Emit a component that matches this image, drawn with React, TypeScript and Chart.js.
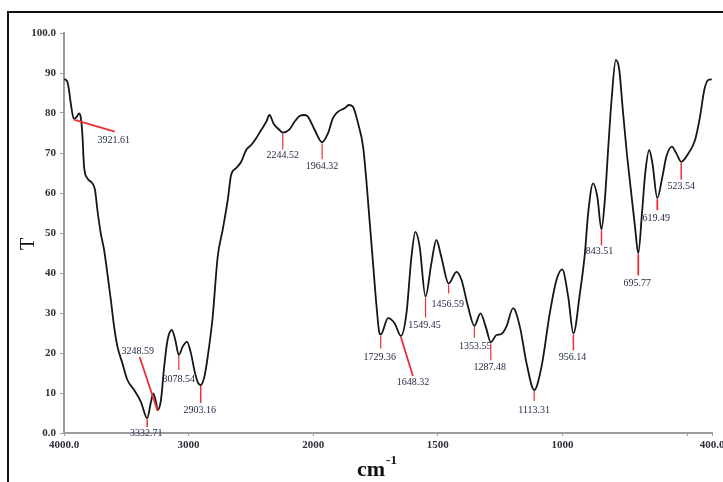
import React, { useEffect, useRef } from "react";
import { Chart, registerables } from "chart.js";

Chart.register(...registerables);

// ---- data (wavenumber cm-1, transmittance %) ----
const wavenumbers = [
  4000, 3973, 3960, 3946, 3921.61, 3901, 3879, 3866, 3853, 3839,
  3813, 3772, 3751, 3732, 3705, 3678, 3652, 3624, 3598, 3571,
  3531, 3491, 3437, 3383, 3332.71, 3302, 3284, 3262, 3248.59, 3222,
  3196, 3169, 3134, 3107, 3078.54, 3048, 3013, 2981, 2954, 2928,
  2903.16, 2874, 2847, 2807, 2767, 2727, 2686, 2659, 2619, 2578,
  2538, 2498, 2458, 2418, 2377, 2351, 2319, 2271, 2244.52, 2190,
  2150, 2109, 2069, 2043, 1994, 1964.32, 1941, 1921, 1901, 1874,
  1857, 1841, 1820, 1800, 1787, 1773, 1760, 1747, 1734, 1729.36,
  1700, 1673, 1648.32, 1626, 1606, 1590, 1573, 1549.45, 1526, 1506,
  1486, 1456.59, 1425, 1405, 1379, 1353.55, 1329, 1308, 1287.48, 1265,
  1245, 1225, 1198, 1171, 1144, 1113.31, 1084, 1051, 1024, 1001,
  977, 956.14, 930, 910, 897, 877, 860, 843.51, 830, 816,
  803, 786, 772, 759, 743, 727, 709, 695.77, 681, 668,
  652, 639, 619.49, 599, 583, 561, 543, 523.54, 495, 468,
  448, 431, 415, 401,
];

const transmittance = [
  88.5, 87.8, 85.75, 82.5, 78.6, 78.9, 79.9, 79, 74.9, 66.6,
  63.7, 62.4, 60.75, 55.75, 49.9, 45.75, 39.9, 33.25, 26.6, 21.6,
  17.4, 13.25, 10.75, 7.8, 3.7, 7.8, 9.9, 7.8, 5.75, 8.25,
  16.6, 23.25, 25.75, 23.25, 19.5, 21.6, 22.8, 19.9, 15.75, 12.8,
  12, 14, 19, 29, 44, 50.75, 58.25, 64.5, 66.2, 67.8,
  70.75, 72, 73.7, 75.75, 77.8, 79.5, 77.4, 75.75, 75.1, 75.9,
  77.8, 79.25, 79.5, 79.1, 75.75, 72.7, 74.9, 78.7, 80.3, 81.2,
  82, 81.6, 77.4, 71.6, 63.25, 52.4, 42.4, 32.4, 24.9, 24.6,
  28.7, 27.4, 24.25, 29.9, 44, 50.3, 46.6, 34.1, 42.4, 48.25,
  44, 37.4, 40.3, 38.25, 31.6, 26.8, 29.9, 26.6, 22.7, 24.5,
  24.75, 26.6, 31.2, 26.6, 17.4, 10.75, 16.6, 29.9, 38.25, 40.9,
  34.1, 24.9, 34.9, 44.9, 54.9, 62.4, 59, 50.9, 58.25, 71.6,
  83.25, 93.25, 90.75, 81.6, 70.75, 61.6, 51.6, 44.9, 54.9, 64.9,
  70.75, 67.4, 58.7, 64.1, 69.1, 71.6, 69.9, 67.8, 69.9, 73.25,
  79.1, 85.75, 88.25, 88.4,
];

const xTickValues = [4000, 3000, 2000, 1500, 1000, 500, 400];
const xTickLabels = ["4000.0", "3000", "2000", "1500", "1000", "", "400.0"];
const yTickValues = [0, 10, 20, 30, 40, 50, 60, 70, 80, 90, 100];
const yTickLabels = ["0.0", "10", "20", "30", "40", "50", "60", "70", "80", "90", "100.0"];

const peakWavenumbers = [
  3921.61, 3332.71, 3248.59, 3078.54, 2903.16, 2244.52, 1964.32, 1729.36,
  1648.32, 1549.45, 1456.59, 1353.55, 1287.48, 1113.31, 956.14, 843.51,
  695.77, 619.49, 523.54,
];
const peakLabels = peakWavenumbers.map((w) => w.toFixed(2));

// annotation layout: leader line end offset and label centre offset (px), relative to the peak point
const peakLayout = [
  { lx: 41, ly: 13, tx: 40, ty: 22, w: 1.8 },
  { lx: 0, ly: 9, tx: -1, ty: 15, w: 1.5 },
  { lx: -18, ly: -53, tx: -20, ty: -59, w: 1.8 },
  { lx: 0, ly: 15, tx: 0, ty: 24, w: 1.2 },
  { lx: 0, ly: 18, tx: -1, ty: 25, w: 1.5 },
  { lx: 0, ly: 17, tx: 0, ty: 23, w: 1.2 },
  { lx: 0, ly: 17, tx: 0, ty: 24.5, w: 1.2 },
  { lx: 0, ly: 14, tx: -1, ty: 23, w: 1.2 },
  { lx: 12, ly: 40, tx: 12, ty: 46, w: 1.8 },
  { lx: 0, ly: 21, tx: -1, ty: 29, w: 1.2 },
  { lx: 0, ly: 10, tx: -1, ty: 21, w: 1.2 },
  { lx: 0, ly: 12, tx: 1, ty: 21, w: 1.2 },
  { lx: 0, ly: 18, tx: -1, ty: 25, w: 1.2 },
  { lx: 0, ly: 11, tx: 0, ty: 20, w: 1.2 },
  { lx: 0, ly: 17, tx: -1, ty: 24, w: 1.5 },
  { lx: 0, ly: 16, tx: -2, ty: 22, w: 1.5 },
  { lx: 0, ly: 22, tx: -1, ty: 30, w: 1.8 },
  { lx: 0, ly: 12, tx: -1, ty: 20, w: 1.8 },
  { lx: 0, ly: 18, tx: 0, ty: 25, w: 1.5 },
];

// axis compression above 2000 cm-1 (half scale), as in the instrument's display
const BREAK = 2000;
const toAxis = (w: number) => (w <= BREAK ? w : BREAK + (w - BREAK) / 2);

const RED = "#ec2f35";
const LABEL_COLOR = "#1e2442";
const TICK_COLOR = "#2e2e36";
const AXIS_COLOR = "#9c9c9c";
const SERIF = '"Liberation Serif", "Times New Roman", serif';

const annotationPlugin = {
  id: "peakAnnotations",
  afterDatasetsDraw(chart: any) {
    const { ctx, scales } = chart;
    const x = scales.x;
    const y = scales.y;
    ctx.save();
    ctx.font = `10px ${SERIF}`;
    ctx.textAlign = "center";
    ctx.textBaseline = "middle";
    peakWavenumbers.forEach((w, i) => {
      const idx = wavenumbers.indexOf(w);
      const px = x.getPixelForValue(toAxis(w));
      const py = y.getPixelForValue(transmittance[idx]);
      const L = peakLayout[i];
      ctx.strokeStyle = RED;
      ctx.lineWidth = L.w;
      ctx.beginPath();
      ctx.moveTo(px, py + 1);
      ctx.lineTo(px + L.lx, py + L.ly);
      ctx.stroke();
      ctx.fillStyle = LABEL_COLOR;
      ctx.fillText(peakLabels[i], px + L.tx, py + L.ty);
    });
    ctx.restore();
  },
  afterDraw(chart: any) {
    const { ctx, chartArea } = chart;
    ctx.save();
    // y title "T"
    ctx.fillStyle = "#111";
    ctx.font = `20px ${SERIF}`;
    ctx.textAlign = "center";
    ctx.textBaseline = "alphabetic";
    ctx.translate(34, (chartArea.top + chartArea.bottom) / 2 + 11);
    ctx.rotate(-Math.PI / 2);
    ctx.fillText("T", 0, 0);
    ctx.restore();

    // x title "cm-1"
    ctx.save();
    ctx.fillStyle = "#111";
    ctx.textAlign = "left";
    ctx.textBaseline = "alphabetic";
    ctx.font = `bold 22px ${SERIF}`;
    const cx = 357;
    ctx.fillText("cm", cx, 476);
    const wcm = ctx.measureText("cm").width;
    ctx.font = `bold 13px ${SERIF}`;
    ctx.fillText("-1", cx + wcm + 1, 464);
    ctx.restore();
  },
};

export default function App() {
  const ref = useRef<HTMLCanvasElement | null>(null);

  useEffect(() => {
    if (!ref.current) return;
    const points = wavenumbers.map((w, i) => ({ x: toAxis(w), y: transmittance[i] }));
    const tickFont = { family: SERIF, size: 11, weight: "bold" as const };
    const chart = new Chart(ref.current, {
      type: "line",
      data: {
        datasets: [
          {
            data: points,
            borderColor: "#161616",
            borderWidth: 1.8,
            pointRadius: 0,
            fill: false,
            cubicInterpolationMode: "monotone",
          },
        ],
      },
      options: {
        animation: false,
        responsive: false,
        devicePixelRatio: 1,
        events: [],
        layout: { padding: { top: 33, right: 48, bottom: 0, left: 0 } },
        plugins: { legend: { display: false }, tooltip: { enabled: false } },
        scales: {
          x: {
            type: "linear",
            reverse: true,
            min: toAxis(400),
            max: toAxis(4000),
            afterBuildTicks: (s: any) => {
              s.ticks = xTickValues.map((v) => ({ value: toAxis(v) }));
            },
            afterFit: (s: any) => {
              s.height = 49;
            },
            ticks: {
              autoSkip: false,
              maxRotation: 0,
              padding: 3,
              font: tickFont,
              color: TICK_COLOR,
              callback: (_v: any, i: number) => xTickLabels[i],
            },
            grid: { drawOnChartArea: false, drawTicks: true, tickLength: 3, color: AXIS_COLOR },
            border: { display: true, color: AXIS_COLOR, width: 2 },
          },
          y: {
            type: "linear",
            min: 0,
            max: 100,
            afterBuildTicks: (s: any) => {
              s.ticks = yTickValues.map((v) => ({ value: v }));
            },
            afterFit: (s: any) => {
              s.width = 64;
            },
            ticks: {
              padding: 4,
              font: tickFont,
              color: TICK_COLOR,
              callback: (_v: any, i: number) => yTickLabels[i],
            },
            grid: { drawOnChartArea: false, drawTicks: true, tickLength: 4, color: AXIS_COLOR },
            border: { display: true, color: AXIS_COLOR, width: 2 },
          },
        },
      },
      plugins: [annotationPlugin],
    });
    return () => chart.destroy();
  }, []);

  return (
    <div
      style={{
        position: "fixed",
        left: 0,
        top: 0,
        width: 723,
        height: 482,
        overflow: "hidden",
        background: "#fff",
      }}
    >
      <div
        style={{
          position: "absolute",
          left: 7,
          top: 11,
          width: 800,
          height: 600,
          border: "2px solid #111",
          boxSizing: "border-box",
        }}
      />
      <canvas
        ref={ref}
        width={760}
        height={482}
        style={{ position: "absolute", left: 0, top: 0 }}
      />
    </div>
  );
}
